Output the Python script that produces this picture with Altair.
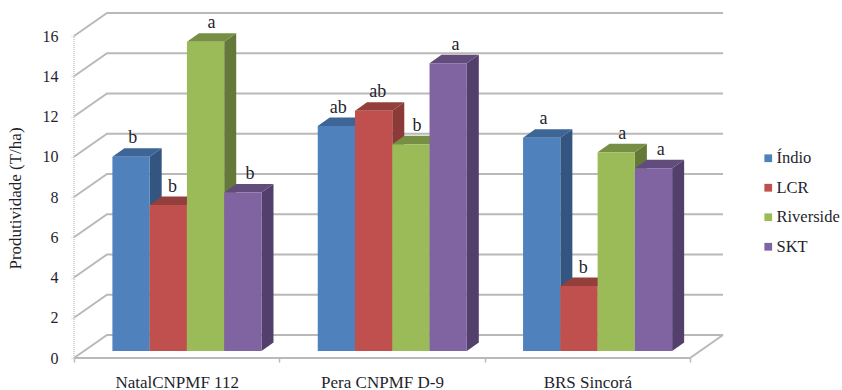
import json
import altair as alt
import pandas as pd

# Clustered columns drawn with an oblique projection of the box faces
cultivars = ["NatalCNPMF 112", "Pera CNPMF D-9", "BRS Sincorá"]
series = ["Índio", "LCR", "Riverside", "SKT"]
indio = [9.65, 11.18, 10.6]
lcr = [7.25, 11.94, 3.23]
riverside = [15.37, 10.27, 9.87]
skt = [7.87, 14.3, 9.08]
letters_indio = ["b", "ab", "a"]
letters_lcr = ["b", "ab", "b"]
letters_riverside = ["a", "b", "a"]
letters_skt = ["b", "a", "a"]
front_colors = ["#4F81BD", "#C0504D", "#9BBB59", "#8064A2"]
side_colors = ["#33557F", "#8B3A38", "#64783A", "#533F6B"]
top_colors = ["#3D6596", "#933F3C", "#768F45", "#624C7C"]
y_ticks = [0, 2, 4, 6, 8, 10, 12, 14, 16]

# Projection parameters, in axis units
WALL_DX, WALL_DV = 0.1607, 1.143
BAR_DX, BAR_DV = 0.0585, 0.42
BAR_LIFT = 0.35
BAR_START, BAR_WIDTH = 0.187, 0.1815
# How far each series' letter sits towards the back of its column top
LETTER_SHIFT = [0.15, 0.35, 0.5, 0.6]
SERIF = "Liberation Serif"
TEXT = "#1f1f2e"
GRID = "#b9b9b9"

values_by_series = [indio, lcr, riverside, skt]
letters_by_series = [letters_indio, letters_lcr, letters_riverside, letters_skt]

fronts, sides, tops, labels = [], [], [], []
for s, name in enumerate(series):
    for g in range(len(cultivars)):
        v = values_by_series[s][g]
        x0 = g + BAR_START + s * BAR_WIDTH
        x1 = x0 + BAR_WIDTH
        bar = f"{s}-{g}"
        fronts.append(dict(series=name, x0=x0, x1=x1, y0=BAR_LIFT, y1=v + BAR_LIFT))
        for k in (0, 1):
            sides.append(dict(bar=bar, face=f"side {name}", px=x1 + k * BAR_DX,
                              lo=BAR_LIFT + k * BAR_DV, hi=v + BAR_LIFT + k * BAR_DV))
            tops.append(dict(bar=bar, face=f"top {name}", py=v + BAR_LIFT + k * BAR_DV,
                             xa=x0 + k * BAR_DX, xb=x1 + k * BAR_DX))
        labels.append(dict(text=letters_by_series[s][g],
                           x=(x0 + x1) / 2 + BAR_DX * LETTER_SHIFT[s],
                           y=v + BAR_LIFT + BAR_DV))

# Walls: each gridline runs up the side wall and then along the back wall
walls = []
x_end = len(cultivars) + WALL_DX
for v in y_ticks:
    walls.append(dict(line=f"g{v}", k=0, x=0, y=v))
    walls.append(dict(line=f"g{v}", k=1, x=WALL_DX, y=v + WALL_DV))
    walls.append(dict(line=f"g{v}", k=2, x=x_end, y=v + WALL_DV))
walls.append(dict(line="floor", k=0, x=0, y=0))
walls.append(dict(line="floor", k=1, x=len(cultivars), y=0))
walls.append(dict(line="floor", k=2, x=x_end, y=WALL_DV))

x_scale = alt.Scale(domain=[0, x_end], nice=False, zero=False)
y_scale = alt.Scale(domain=[0, 16 + WALL_DV], nice=False, zero=False)
face_scale = alt.Scale(
    domain=[f"side {n}" for n in series] + [f"top {n}" for n in series],
    range=side_colors + top_colors,
)

axis_positions = [i / 2 for i in range(2 * len(cultivars) + 1)]
label_expr = ("datum.value % 1 ? " + json.dumps(cultivars, ensure_ascii=False)
              + "[floor(datum.value)] : ''")
x_axis = alt.Axis(
    values=axis_positions, labelExpr=label_expr, title=None, grid=False, domain=False,
    tickColor=GRID, tickSize=4, tickWidth=1.5,
    tickOpacity={"condition": {"test": "datum.value % 1 === 0", "value": 1}, "value": 0},
    labelFont=SERIF, labelFontSize=17, labelColor=TEXT, labelPadding=12,
    labelAngle=0, labelOverlap=False, labelFlush=False,
)
y_axis = alt.Axis(
    values=y_ticks, title="Produtividade (T/ha)", grid=False, domain=False,
    tickColor="#c8c8c8", tickSize=4, tickDash=[1, 1],
    labelFont=SERIF, labelFontSize=16, labelColor=TEXT, labelPadding=12,
    titleFont=SERIF, titleFontSize=17, titleFontWeight="normal", titleColor=TEXT,
    titleX=-50, titleY=185,
)


def X(field):
    return alt.X(field, type="quantitative", scale=x_scale, axis=x_axis, title=None)


def Y(field):
    return alt.Y(field, type="quantitative", scale=y_scale, axis=y_axis, stack=None,
                 title="Produtividade (T/ha)")


grid_layer = alt.Chart(pd.DataFrame(walls)).mark_line(color=GRID, strokeWidth=2).encode(
    x=X("x"), y=Y("y"), detail="line:N", order="k:Q",
)

# Dotted vertical axis on the front edge of the side wall
axis_rule = alt.Chart(pd.DataFrame({"x": [0], "lo": [y_ticks[0]], "hi": [y_ticks[-1]]})).mark_rule(
    color="#c8c8c8", strokeDash=[1, 1], strokeWidth=1.5
).encode(x=X("x"), y=Y("lo"), y2="hi:Q")

side_layer = alt.Chart(pd.DataFrame(sides)).mark_area().encode(
    x=X("px"), y=Y("lo"), y2="hi:Q",
    fill=alt.Fill("face:N", scale=face_scale, legend=None),
    detail="bar:N",
)
top_layer = alt.Chart(pd.DataFrame(tops)).mark_area(orient="horizontal").encode(
    y=Y("py"),
    x=alt.X("xa:Q", scale=x_scale, axis=x_axis, stack=None, title=None), x2="xb:Q",
    fill=alt.Fill("face:N", scale=face_scale, legend=None),
    detail="bar:N",
)
front_layer = alt.Chart(pd.DataFrame(fronts)).mark_bar().encode(
    x=X("x0"), x2="x1:Q", y=Y("y0"), y2="y1:Q",
    color=alt.Color(
        "series:N",
        scale=alt.Scale(domain=series, range=front_colors),
        legend=alt.Legend(
            title=None, orient="none", legendX=686, legendY=137,
            symbolType="square", symbolSize=60, symbolStrokeWidth=0,
            labelFont=SERIF, labelFontSize=16.5, labelColor=TEXT,
            rowPadding=12.5, labelOffset=0,
        ),
    ),
)
label_layer = alt.Chart(pd.DataFrame(labels)).mark_text(
    font=SERIF, fontSize=18, color=TEXT, baseline="bottom", dy=-1
).encode(x=X("x"), y=Y("y"), text="text:N")

chart = (
    alt.layer(grid_layer, axis_rule, side_layer, top_layer, front_layer, label_layer)
    .properties(
        width=649, height=345,
        background="white",
        autosize=alt.AutoSizeParams(type="none"),
        padding={"left": 74, "top": 13, "right": 119, "bottom": 32},
    )
    .configure_view(strokeWidth=0)
)

chart.save("out.html", embed_options={"renderer": "svg", "actions": False})
